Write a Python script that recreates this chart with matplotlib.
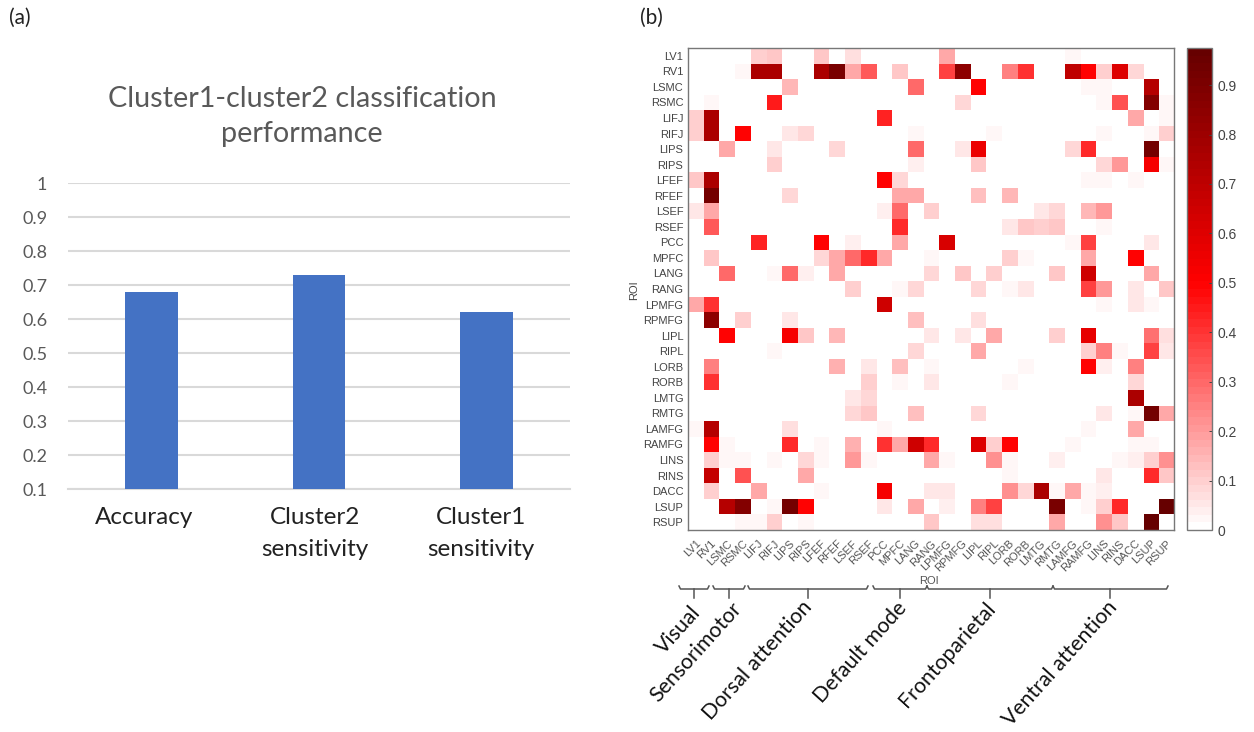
#!/usr/bin/env python3
import numpy as np
import matplotlib
matplotlib.use('Agg')
import matplotlib.pyplot as plt
from matplotlib.colors import LinearSegmentedColormap
from matplotlib.lines import Line2D

W, H = 1254, 732

# panel (a)
bar_names = ['Accuracy', 'Cluster2\nsensitivity', 'Cluster1\nsensitivity']
bar_values = [0.68, 0.73, 0.62]
bar_ticks = [0.1, 0.2, 0.3, 0.4, 0.5, 0.6, 0.7, 0.8, 0.9, 1]
bar_tick_labels = ['0.1', '0.2', '0.3', '0.4', '0.5', '0.6', '0.7', '0.8', '0.9', '1']

# panel (b)
rois = ['LV1', 'RV1', 'LSMC', 'RSMC', 'LIFJ', 'RIFJ', 'LIPS', 'RIPS', 'LFEF', 'RFEF', 'LSEF',
        'RSEF', 'PCC', 'MPFC', 'LANG', 'RANG', 'LPMFG', 'RPMFG', 'LIPL', 'RIPL', 'LORB',
        'RORB', 'LMTG', 'RMTG', 'LAMFG', 'RAMFG', 'LINS', 'RINS', 'DACC', 'LSUP', 'RSUP']

# non zero cells of each row, column index: value
LV1 = {4: .10, 5: .12, 8: .12, 10: .07, 16: .18, 24: .02}
RV1 = {3: .02, 4: .75, 5: .75, 8: .75, 9: .90, 10: .18, 11: .33, 13: .12, 16: .38, 17: .85,
       20: .25, 21: .40, 24: .70, 25: .50, 26: .10, 27: .60, 28: .08}
LSMC = {6: .15, 14: .30, 18: .50, 25: .02, 26: .02, 29: .72}
RSMC = {1: .02, 5: .45, 17: .08, 26: .03, 27: .35, 29: .88, 30: .02}
LIFJ = {0: .10, 1: .75, 12: .43, 28: .17, 30: .02}
RIFJ = {0: .10, 1: .75, 3: .50, 6: .05, 7: .09, 14: .02, 19: .02, 26: .02, 29: .02, 30: .10}
LIPS = {2: .17, 5: .05, 9: .08, 14: .30, 17: .05, 18: .55, 24: .08, 25: .42, 29: .92}
RIPS = {5: .10, 14: .04, 18: .12, 26: .08, 27: .20, 29: .52, 30: .02}
LFEF = {0: .12, 1: .75, 12: .50, 13: .08, 25: .02, 26: .02, 28: .02}
RFEF = {1: .92, 6: .08, 13: .18, 14: .18, 18: .13, 20: .15}
LSEF = {0: .06, 1: .18, 12: .04, 13: .30, 15: .10, 22: .05, 23: .09, 25: .15, 26: .20}
RSEF = {1: .33, 13: .42, 20: .05, 21: .12, 22: .10, 23: .12, 26: .02}
PCC = {4: .43, 8: .50, 10: .04, 13: .17, 16: .62, 24: .02, 25: .38, 29: .05}
MPFC = {1: .12, 8: .09, 9: .17, 10: .30, 11: .42, 12: .17, 15: .02, 20: .10, 21: .02, 25: .18, 28: .50}
LANG = {2: .30, 5: .02, 6: .30, 7: .04, 9: .17, 15: .08, 17: .12, 19: .10, 23: .12, 25: .65, 29: .18}
RANG = {10: .10, 13: .02, 14: .08, 18: .08, 20: .03, 21: .05, 25: .38, 26: .20, 28: .06, 30: .12}
LPMFG = {0: .18, 1: .40, 12: .65, 26: .02, 28: .06, 29: .02}
RPMFG = {1: .85, 3: .10, 6: .05, 14: .13, 18: .07}
LIPL = {2: .50, 6: .52, 7: .12, 9: .15, 15: .06, 17: .06, 19: .17, 23: .10, 25: .57, 29: .28, 30: .07}
RIPL = {5: .02, 14: .09, 18: .17, 25: .10, 26: .25, 27: .02, 29: .37, 30: .06}
LORB = {1: .25, 9: .16, 11: .05, 13: .13, 15: .03, 21: .02, 25: .50, 26: .04, 28: .25}
RORB = {1: .40, 11: .10, 13: .02, 15: .05, 20: .02, 28: .09}
LMTG = {10: .05, 11: .09, 28: .75}
RMTG = {10: .09, 11: .12, 14: .13, 18: .09, 26: .05, 28: .03, 29: .92, 30: .17}
LAMFG = {0: .02, 1: .72, 6: .07, 12: .02, 25: .02, 28: .18}
RAMFG = {1: .50, 2: .02, 6: .42, 8: .02, 10: .16, 12: .40, 13: .18, 14: .65, 15: .42, 18: .60,
         19: .10, 20: .50, 24: .02, 28: .02, 29: .02}
LINS = {1: .10, 2: .02, 3: .03, 5: .02, 7: .08, 8: .02, 10: .20, 11: .02, 15: .18, 16: .02,
        19: .22, 20: .02, 23: .04, 27: .03, 28: .04, 29: .10, 30: .22}
RINS = {1: .68, 3: .35, 7: .18, 20: .02, 26: .05, 29: .42, 30: .12}
DACC = {1: .10, 4: .17, 8: .02, 12: .52, 15: .05, 16: .05, 20: .22, 21: .08, 22: .75, 23: .02,
        24: .18, 25: .02, 26: .04}
LSUP = {2: .72, 3: .88, 5: .02, 6: .92, 7: .50, 12: .05, 14: .18, 16: .04, 18: .25, 19: .38,
        23: .90, 25: .02, 26: .10, 27: .42, 30: .97}
RSUP = {3: .03, 4: .02, 5: .10, 7: .02, 15: .12, 18: .07, 19: .07, 23: .17, 26: .22, 27: .12, 29: .97}

rows = [LV1, RV1, LSMC, RSMC, LIFJ, RIFJ, LIPS, RIPS, LFEF, RFEF, LSEF, RSEF, PCC, MPFC, LANG,
        RANG, LPMFG, RPMFG, LIPL, RIPL, LORB, RORB, LMTG, RMTG, LAMFG, RAMFG, LINS, RINS,
        DACC, LSUP, RSUP]

networks = ['Visual', 'Sensorimotor', 'Dorsal attention', 'Default mode', 'Frontoparietal', 'Ventral attention']
cbar_ticks = [0, 0.1, 0.2, 0.3, 0.4, 0.5, 0.6, 0.7, 0.8, 0.9]

matrix = np.zeros((len(rois), len(rois)))
for i, row in enumerate(rows):
    for j, v in row.items():
        matrix[i, j] = v


def box(left, top, right, bottom):
    # pixel box of the reference -> figure fractions
    return [left / W, 1 - bottom / H, (right - left) / W, (bottom - top) / H]


def fx(x):
    return x / W


def fy(y):
    return 1 - y / H


fig = plt.figure(figsize=(W / 100, H / 100), dpi=100)
calibri_like = ['Lato', 'DejaVu Sans']
arial_like = ['Liberation Sans', 'DejaVu Sans']
grey = '#595959'

fig.text(fx(9), fy(18), '(a)', fontsize=15, family=calibri_like, color='#222222', va='center')
fig.text(fx(640), fy(18), '(b)', fontsize=15, family=calibri_like, color='#222222', va='center')

# ---- bars
ax1 = fig.add_axes(box(68, 183, 570, 489))
ax1.bar(range(3), bar_values, width=0.315, color='#4472C4', zorder=3)
ax1.set_xlim(-0.5, 2.5)
ax1.set_ylim(0.1, 1)
ax1.set_yticks(bar_ticks)
ax1.set_yticklabels(bar_tick_labels, fontsize=13, color=grey, family=calibri_like)
ax1.set_xticks([])
ax1.tick_params(axis='both', length=0)
ax1.tick_params(axis='y', pad=15)
ax1.grid(axis='y', color='#d9d9d9', linewidth=1.5, zorder=0)
for s in ['top', 'right', 'left']:
    ax1.spines[s].set_visible(False)
ax1.spines['bottom'].set_color('#d9d9d9')
ax1.spines['bottom'].set_linewidth(1.5)
# the category labels sit a little left of their bars in the reference
name_x = [144, 315, 481]
for name, x in zip(bar_names, name_x):
    fig.text(fx(x), fy(507), name, fontsize=17.5, color='#222222', family=calibri_like,
             ha='center', va='top', linespacing=1.65)
fig.text(fx(302), fy(116.5), 'Cluster1-cluster2 classification\nperformance', fontsize=20.7, color=grey,
         family=calibri_like, ha='center', va='center', linespacing=1.47)

# ---- heatmap
cmap = LinearSegmentedColormap.from_list(
    'wrd', [(0, '#ffffff'), (0.513, '#ff0000'), (1, '#660000')], N=64)
ax2 = fig.add_axes(box(687.5, 48, 1174, 530))
im = ax2.imshow(matrix, cmap=cmap, vmin=0, vmax=0.975, aspect='auto', interpolation='nearest')
ax2.set_xticks(range(31))
ax2.set_yticks(range(31))
ax2.set_xticklabels(rois, rotation=45, ha='right', rotation_mode='anchor', fontsize=8,
                    color='#555555', family=arial_like)
ax2.set_yticklabels(rois, fontsize=8, color='#444444', family=arial_like)
ax2.tick_params(axis='both', which='major', length=0, pad=3)
ax2.tick_params(axis='x', which='major', pad=6)
minor_idx = [4, 9, 14, 19, 24, 29]
ax2.set_xticks(minor_idx, minor=True)
ax2.set_yticks(minor_idx, minor=True)
ax2.tick_params(which='minor', direction='in', length=2.5, width=0.7, color='#444444',
                top=True, bottom=True, left=True, right=True)
for s in ax2.spines.values():
    s.set_color('#777777')
    s.set_linewidth(1)
fig.text(fx(634), fy(290), 'ROI', fontsize=8, color='#444444', rotation=90, ha='center', va='center',
         family=arial_like)
fig.text(fx(929), fy(581), 'ROI', fontsize=8, color='#555555', ha='center', va='center', family=arial_like)

# ---- colorbar
cax = fig.add_axes(box(1187, 48, 1212, 530))
cb = fig.colorbar(im, cax=cax)
cb.set_ticks(cbar_ticks)
cb.set_ticklabels(['0', '0.1', '0.2', '0.3', '0.4', '0.5', '0.6', '0.7', '0.8', '0.9'])
cax.tick_params(length=2, width=0.7, direction='in', labelsize=10, labelcolor='#444444', color='#444444', pad=4)
for label in cax.get_yticklabels():
    label.set_family(arial_like)
cb.outline.set_edgecolor('#777777')
cb.outline.set_linewidth(1)

# ---- network brackets
bracket_left = [679, 713, 748, 873, 927, 1053]
bracket_right = [709, 745, 868, 927, 1053, 1168]
bracket_mid = [694, 729, 808, 900, 990, 1110]
label_end_x = [697, 738, 809, 903, 992, 1114]
label_end_y = [609, 605, 604, 605, 605, 604]
for k, name in enumerate(networks):
    xs = [bracket_left[k], bracket_left[k] + 1.5, bracket_right[k] - 1.5, bracket_right[k]]
    ys = [586, 589, 589, 586]
    fig.add_artist(Line2D([fx(x) for x in xs], [fy(y) for y in ys], color='#555555', lw=1.1))
    fig.add_artist(Line2D([fx(bracket_mid[k])] * 2, [fy(589), fy(598)], color='#555555', lw=1.1))
    fig.text(fx(label_end_x[k]), fy(label_end_y[k]), name, fontsize=15.3, rotation=48, ha='right', va='center',
             rotation_mode='anchor', color='#111111', family=calibri_like)

fig.savefig('out.png', dpi=100)
